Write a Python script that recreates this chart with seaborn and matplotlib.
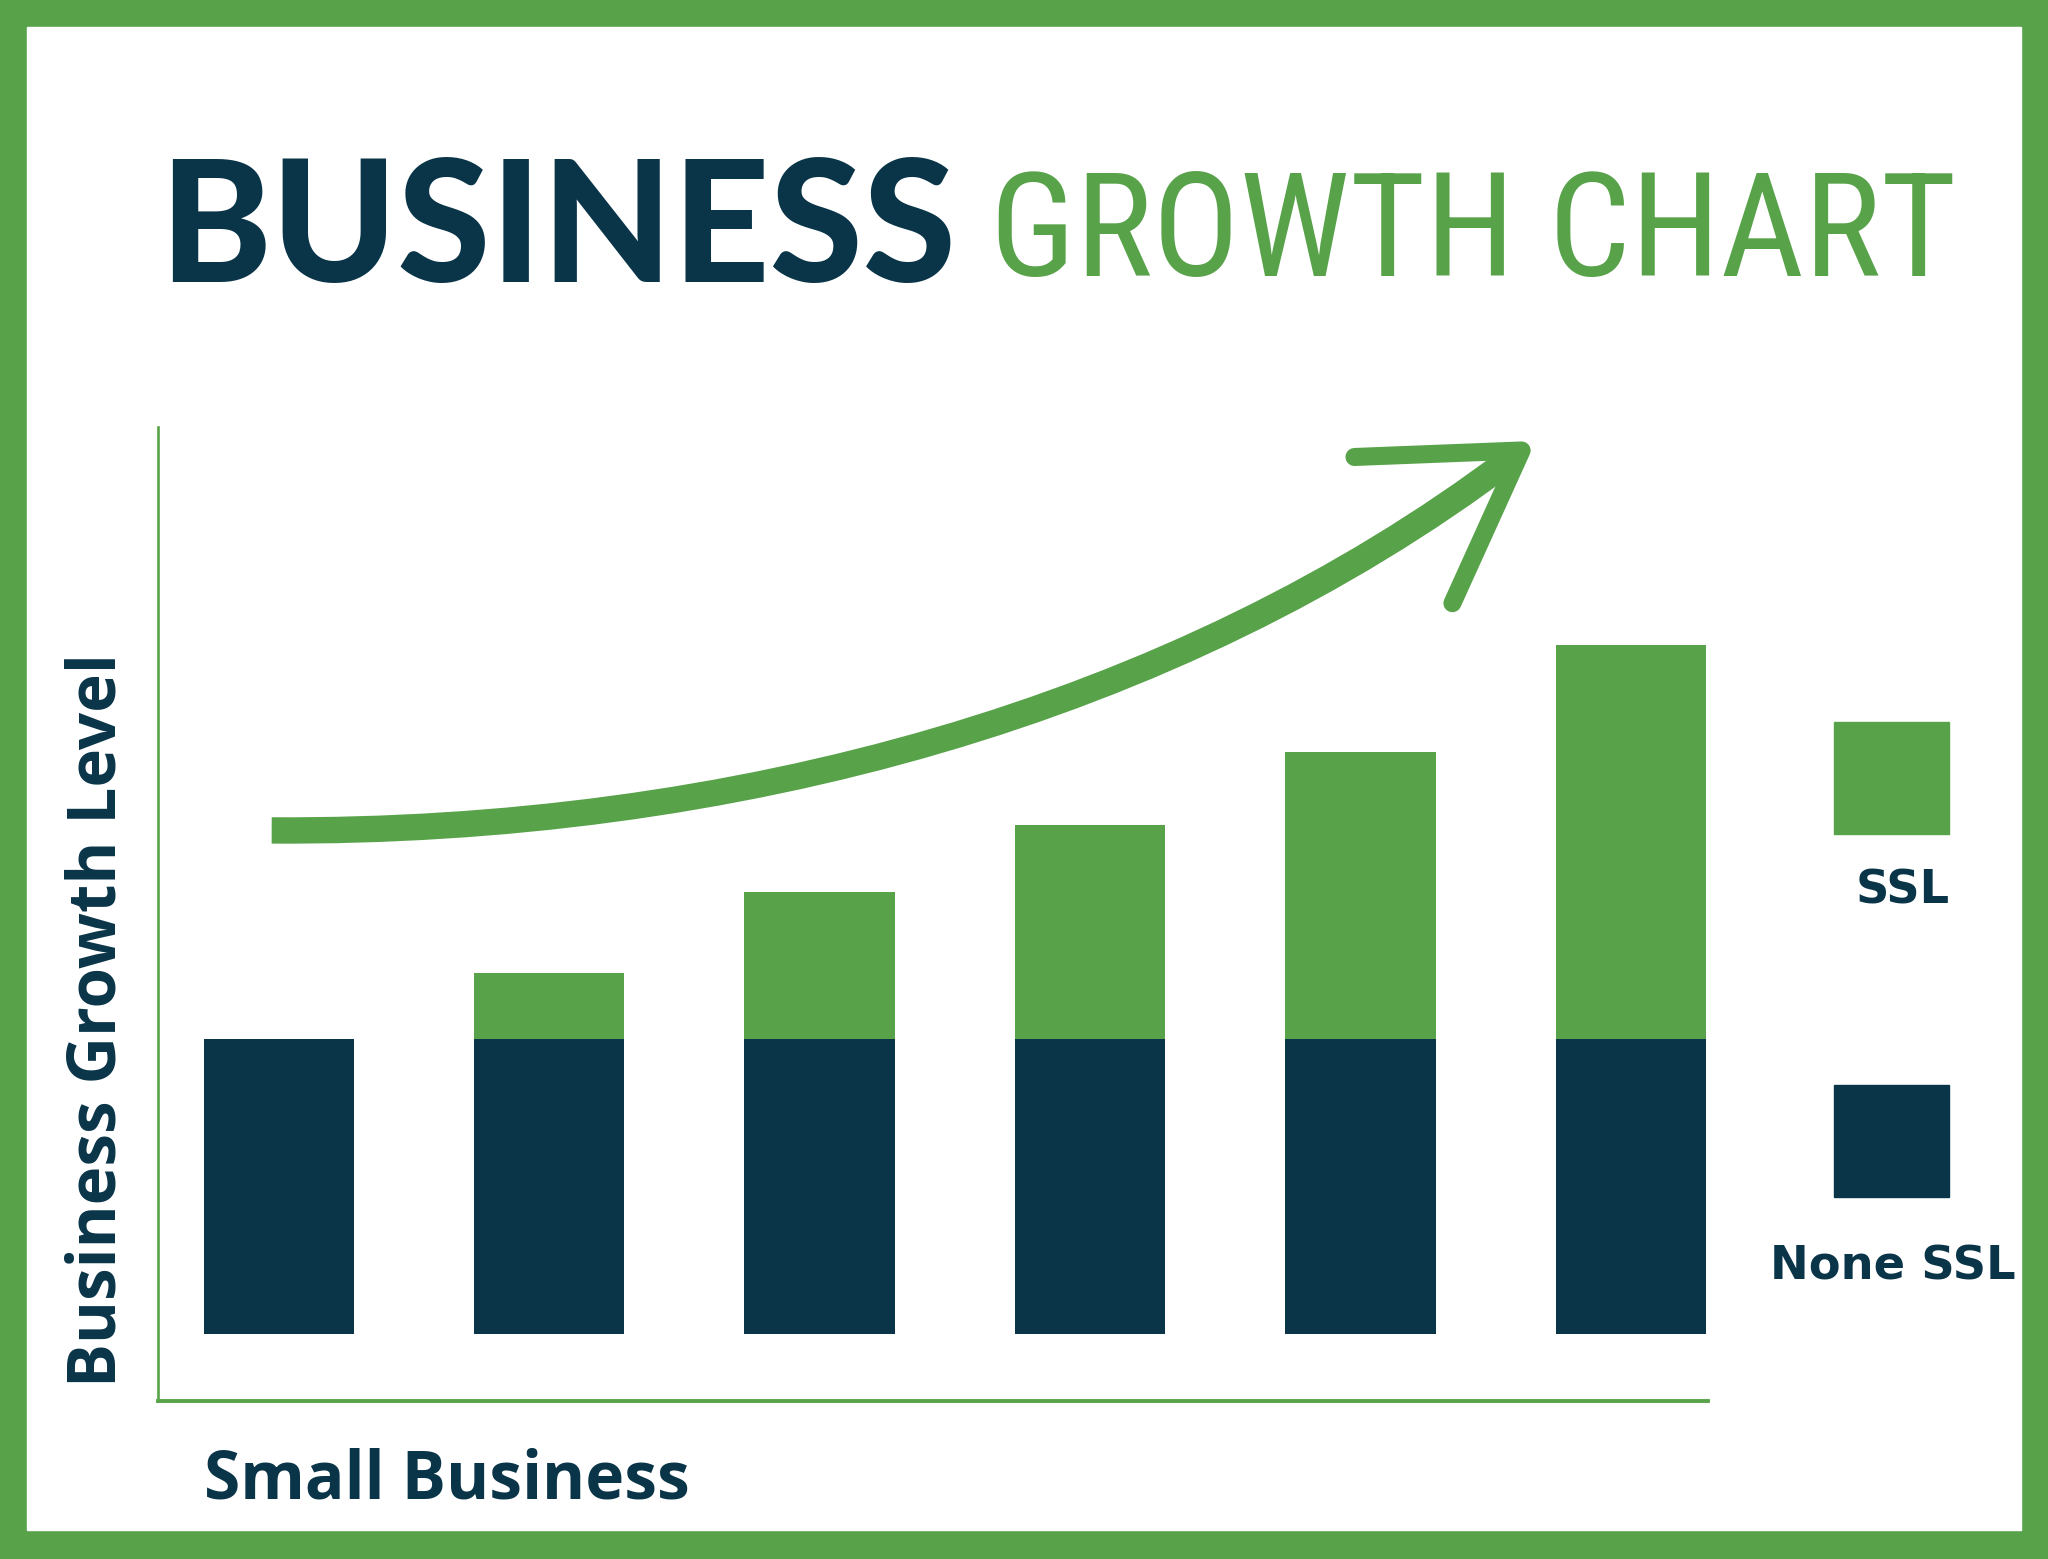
import matplotlib
matplotlib.use("Agg")
import matplotlib.pyplot as plt
import seaborn as sns
import pandas as pd
from matplotlib.path import Path
from matplotlib.patches import PathPatch, Rectangle

# ---------------------------------
# DATA
# ---------------------------------

stages = ["Stage 1", "Stage 2", "Stage 3", "Stage 4", "Stage 5", "Stage 6"]
none_ssl = [4.0, 4.0, 4.0, 4.0, 4.0, 4.0]
ssl = [0.0, 0.9, 2.0, 2.9, 3.9, 5.35]

series_names = ["SSL", "None SSL"]

GREEN = "#58A34A"
NAVY = "#0A3549"

# layout units (reference drawn on a 1568 x 1194 grid)
W, H = 1568, 1194
S = 2048 / W

sns.set_theme(style="white")
plt.rcParams["font.family"] = ["DejaVu Sans"]

fig = plt.figure(figsize=(20.48, 15.59), dpi=100)

# ---------------------------------
# BACKGROUND / FRAME
# ---------------------------------

bg = fig.add_axes([0, 0, 1, 1], zorder=0)
bg.set_xlim(0, W)
bg.set_ylim(H, 0)
bg.axis("off")
bg.add_patch(Rectangle((0, 0), W, H, color=GREEN))
bg.add_patch(Rectangle((21, 21), 1526, 1151, color="white"))

# ---------------------------------
# BARS
# ---------------------------------

df = pd.DataFrame({"stage": stages, "none_ssl": none_ssl, "ssl": ssl})
df["total"] = df["none_ssl"] + df["ssl"]

ax = fig.add_axes([121 / W, 1 - 1073 / H, (1308 - 121) / W, (1073 - 327) / H], zorder=1)
ax.patch.set_alpha(0)

sns.barplot(data=df, x="stage", y="total", color=GREEN, width=0.556,
            saturation=1, linewidth=0, errorbar=None, ax=ax)
sns.barplot(data=df, x="stage", y="none_ssl", color=NAVY, width=0.556,
            saturation=1, linewidth=0, errorbar=None, ax=ax)

ax.set_xlim(-0.447, 5.287)
ax.set_ylim(-0.903, 12.30)
ax.set_xticks([])
ax.set_yticks([])
ax.set_xlabel("")
ax.set_ylabel("")
for side in ["top", "right"]:
    ax.spines[side].set_visible(False)
ax.spines["left"].set_color(GREEN)
ax.spines["left"].set_linewidth(1.9)
ax.spines["bottom"].set_color(GREEN)
ax.spines["bottom"].set_linewidth(2.8)

# ---------------------------------
# ARROW
# ---------------------------------

curve = Path([(208, 636), (560, 638), (900, 545), (1156, 352)],
             [Path.MOVETO, Path.CURVE4, Path.CURVE4, Path.CURVE4])
bg.add_patch(PathPatch(curve, fill=False, edgecolor=GREEN, lw=19, capstyle="butt"))
bg.plot([1037, 1165, 1112], [350, 345, 462], color=GREEN, lw=13,
        solid_capstyle="round", solid_joinstyle="round")

# ---------------------------------
# LEGEND
# ---------------------------------

bg.add_patch(Rectangle((1404, 553), 88, 86, color=GREEN))
bg.add_patch(Rectangle((1404, 831), 88, 86, color=NAVY))

# ---------------------------------
# TEXT
# ---------------------------------

fig.canvas.draw()
renderer = fig.canvas.get_renderer()


def fit_text(x, y, s, width, rotation=0, **kw):
    t = bg.text(x, y, s, fontsize=100, rotation=rotation, **kw)
    bb = t.get_window_extent(renderer)
    size = bb.height if rotation else bb.width
    t.set_fontsize(100 * width * S / size)
    return t


label_font = ["Open Sans", "Noto Sans", "DejaVu Sans"]
narrow_font = ["Liberation Sans Narrow", "Roboto Condensed", "DejaVu Sans Condensed",
               "Open Sans Condensed", "Roboto", "DejaVu Sans"]

fit_text(122, 216, "BUSINESS", 610, ha="left", va="baseline",
         color=NAVY, fontweight="black", family=["Lato", "DejaVu Sans"])
fit_text(758, 211, "GROWTH CHART", 740, ha="left", va="baseline",
         color=GREEN, family=narrow_font, fontstretch="condensed")

fit_text(101, 1062, "Business Growth Level", 562, rotation=90,
         ha="right", va="bottom", color=NAVY, fontweight="bold", family=label_font)
fit_text(156, 1148, "Small Business", 372, ha="left", va="baseline",
         color=NAVY, fontweight="bold", family=label_font)

fit_text(1457, 692, series_names[0], 72, ha="center", va="baseline",
         color=NAVY, fontweight="bold")
fit_text(1449, 980, series_names[1], 188, ha="center", va="baseline",
         color=NAVY, fontweight="bold")

fig.savefig("out.png", dpi=100)
